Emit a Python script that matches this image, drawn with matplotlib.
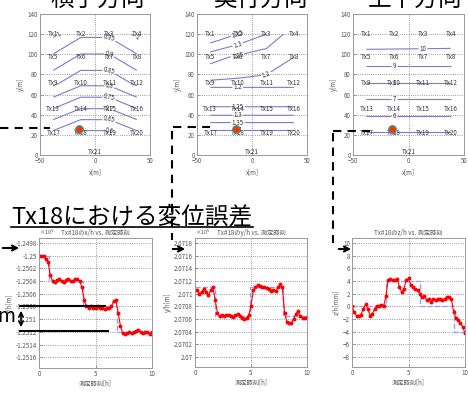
import numpy as np
import matplotlib
matplotlib.use('Agg')
import matplotlib.pyplot as plt
from matplotlib.lines import Line2D
from matplotlib.patches import FancyArrowPatch

plt.rcParams['font.family'] = ['Noto Sans CJK JP', 'DejaVu Sans']

W, H = 468, 395

# ---- 上段: 送信機配置と誤差の等高線
top_titles = ['横手方向', '奥行方向', '上下方向']
grid_x = [-38, -13, 13, 38]
grid_y = [22, 46, 71, 97, 120]
lateral = [[0.64, 0.59, 0.59, 0.64],
           [0.75, 0.70, 0.70, 0.75],
           [0.86, 0.81, 0.81, 0.86],
           [0.94, 0.89, 0.89, 0.94],
           [1.01, 0.96, 0.96, 1.01]]
lateral_levels = [0.6, 0.65, 0.7, 0.75, 0.8, 0.85, 0.9, 0.95, 1.0]
depth = [[1.42, 1.42, 1.42, 1.42],
         [1.255, 1.255, 1.255, 1.255],
         [1.19, 1.19, 1.19, 1.19],
         [1.27, 1.24, 1.22, 1.20],
         [1.40, 1.35, 1.30, 1.22]]
depth_levels = [1.2, 1.25, 1.3, 1.35, 1.4]
vertical = [[4.95, 4.95, 4.95, 4.95],
            [6.45, 6.45, 6.45, 6.45],
            [7.95, 7.95, 7.95, 7.95],
            [9.5, 9.5, 9.5, 9.5],
            [10.95, 10.9, 10.85, 10.8]]
vertical_levels = [5, 6, 7, 8, 9, 10]

tx_x = [-38, -13, 13, 38] * 5 + [0]
tx_y = [120] * 4 + [97] * 4 + [71] * 4 + [46] * 4 + [22] * 4 + [3]
tx_names = ['Tx%d' % i for i in range(1, 22)]
dot_x, dot_y = -15, 26

# ---- 下段: Tx18 の時系列
t = np.round(np.arange(0, 10.01, 0.2), 1)
x_h = [-1.2500, -1.2500, -1.2500, -1.25005, -1.2501, -1.2503, -1.2504, -1.25042,
       -1.25038, -1.25036, -1.2504, -1.25042, -1.25038, -1.25037, -1.2504, -1.2504,
       -1.25037, -1.25036, -1.2504, -1.2505, -1.2507, -1.2508, -1.25082, -1.2508,
       -1.25082, -1.25083, -1.2508, -1.25082, -1.25083, -1.25084, -1.25083, -1.25082,
       -1.2508, -1.25072, -1.2507, -1.2509, -1.2511, -1.25122, -1.25124, -1.25122,
       -1.25121, -1.25122, -1.2512, -1.25118, -1.25117, -1.2512, -1.25122, -1.2512,
       -1.2512, -1.25123, -1.2512]
y_h = [2.07105, 2.07105, 2.07100, 2.07103, 2.07108, 2.07102, 2.07098, 2.07105,
       2.07110, 2.0709, 2.0707, 2.07064, 2.07066, 2.07064, 2.07066, 2.07067,
       2.07064, 2.07063, 2.07066, 2.07068, 2.07064, 2.07061, 2.07060, 2.07062,
       2.07066, 2.0708, 2.07105, 2.0711, 2.07113, 2.07112, 2.0711, 2.0711,
       2.07109, 2.07107, 2.07104, 2.07106, 2.07104, 2.0711, 2.07115, 2.0711,
       2.0707, 2.07055, 2.07053, 2.07054, 2.0706, 2.07068, 2.07072, 2.07065,
       2.07062, 2.07062, 2.07063]
z_h = [0, -0.9, -1.5, -1.6, -1.3, -0.4, 0.3, -0.4, -1.5, -1.2, -0.4, 0, 0.1, 0.2,
       0, 1.6, 4.2, 4.3, 4.1, 4.2, 4.3, 3.1, 2.2, 2.8, 4.2, 4.4, 3.4, 3.1, 2.8,
       2.6, 1.9, 1.4, 1.6, 1.0, 1.2, 0.7, 1.2, 1.0, 1.2, 1.1, 1.0, 1.2, 1.4, 1.5,
       1.1, -0.9, -1.9, -2.2, -2.7, -3.2, -4.3]
x_step_t = [0, 0.9, 3.9, 6.9, 10]
x_step = [-1.25, -1.2504, -1.2508, -1.2512, -1.2512]
y_step_t = [0, 1.8, 4.9, 7.9, 10]
y_step = [2.0711, 2.07065, 2.0711, 2.07065, 2.07065]
z_step_t = [0, 3, 6, 9, 10]
z_step = [0, 4, 0, -4, -4]

x_ticks = [-1.2498, -1.25, -1.2502, -1.2504, -1.2506, -1.2508, -1.251, -1.2512, -1.2514, -1.2516]
x_ticklabels = ['-1.2498', '-1.25', '-1.2502', '-1.2504', '-1.2506', '-1.2508', '-1.251',
                '-1.2512', '-1.2514', '-1.2516']
y_ticks = [2.0718, 2.0716, 2.0714, 2.0712, 2.071, 2.0708, 2.0706, 2.0704, 2.0702, 2.07]
y_ticklabels = ['2.0718', '2.0716', '2.0714', '2.0712', '2.071', '2.0708', '2.0706',
                '2.0704', '2.0702', '2.07']
z_ticks = [10, 8, 6, 4, 2, 0, -2, -4, -6, -8]
bottom_titles = ['Tx#18のx/h vs. 測定時刻', 'Tx#18のy/h vs. 測定時刻', 'Tx#18のz/h vs. 測定時刻']
bottom_ylabels = ['x/h[m]', 'y/h[m]', 'z/h[mm]']


def rect(l, top, r, b):
    return [l / W, 1 - b / H, (r - l) / W, (b - top) / H]


def P(px, py):
    return (px / W, 1 - py / H)


def style(ax):
    ax.grid(True, ls=':', color='#777', lw=0.6)
    for s in ax.spines.values():
        s.set_color('#999')
        s.set_linewidth(0.7)
    ax.tick_params(direction='in', length=2, width=0.5, labelsize=4.5,
                   labelcolor='#555', color='#777', pad=1.5)


fig = plt.figure(figsize=(W / 100, H / 100), dpi=100)

top_rects = [(40, 14, 150, 155), (197, 14, 307, 155), (353, 14, 464, 155)]
top_data = [(lateral, lateral_levels), (depth, depth_levels), (vertical, vertical_levels)]
title_cx = [98, 260, 415]
for i in range(3):
    ax = fig.add_axes(rect(*top_rects[i]))
    style(ax)
    ax.set_xlim(-50, 50)
    ax.set_ylim(0, 140)
    ax.set_xticks([-50, 0, 50])
    ax.set_yticks(range(0, 141, 20))
    ax.set_xlabel('x[m]', fontsize=4.5, color='#555', labelpad=2)
    ax.set_ylabel('y[m]', fontsize=4.5, color='#555', labelpad=2)
    vals, levels = top_data[i]
    cs = ax.contour(grid_x, grid_y, vals, levels=levels, colors='#7b7bd0', linewidths=0.8)
    ax.clabel(cs, fmt='%g', fontsize=4.5, inline=True, inline_spacing=1, colors='#333')
    for x, y, n in zip(tx_x, tx_y, tx_names):
        ax.text(x, y, n, fontsize=4.5, ha='center', va='center', color='#333')
    ax.plot(dot_x, dot_y, 'o', color='#ff3300', mec='#2a9d9d', mew=0.8, ms=5.5, zorder=5)
    # 見出しは上端で切れている
    fig.text(*P(title_cx[i], 5.5), top_titles[i], fontsize=17, ha='center', va='baseline')

bot_rects = [(39, 238, 152, 368), (195, 238, 307, 367), (352, 238, 465, 367)]
series = [(x_h, x_step_t, x_step), (y_h, y_step_t, y_step), (z_h, z_step_t, z_step)]
ylims = [(-1.25177, -1.24972), (2.06984, 2.07188), (-9.6, 10.8)]
for i in range(3):
    ax = fig.add_axes(rect(*bot_rects[i]))
    style(ax)
    vals, st, sv = series[i]
    ax.step(st, sv, where='post', color='#9a9aff', ls='--', lw=1.0)
    ax.plot(t, vals, '-', color='red', lw=0.8, marker='o', ms=1.8)
    ax.set_xlim(0, 10)
    ax.set_ylim(*ylims[i])
    ax.set_xticks([0, 5, 10])
    ax.set_xlabel('測定時刻[h]', fontsize=4.5, color='#555', labelpad=1)
    ax.set_ylabel(bottom_ylabels[i], fontsize=4.5, color='#555', labelpad=1.5)
    ax.set_title(bottom_titles[i], fontsize=4.5, color='#555', pad=2)
    if i == 0:
        ax.set_yticks(x_ticks)
        ax.set_yticklabels(x_ticklabels)
    elif i == 1:
        ax.set_yticks(y_ticks)
        ax.set_yticklabels(y_ticklabels)
    else:
        ax.set_yticks(z_ticks)
    if i < 2:
        ax.text(0, 1.01, '×10$^5$', transform=ax.transAxes, fontsize=4, color='#555',
                ha='left', va='bottom')

# 下段タイトル
fig.text(*P(11, 223), 'Tx18における変位誤差', fontsize=17, ha='left', va='baseline')
fig.add_artist(Line2D([11 / W, 253 / W], [1 - 227 / H] * 2, color='k', lw=1.2))

# 破線の引き出し線
dash = dict(color='k', lw=1.5, ls=(0, (4, 3)))
for (x0, y0), (x1, y1) in [((0, 128), (50, 128)),
                           ((173, 127), (210, 127)), ((172, 131), (172, 240)),
                           ((333, 131), (370, 131)), ((333, 133), (333, 243))]:
    a, b = P(x0, y0), P(x1, y1)
    fig.add_artist(Line2D([a[0], b[0]], [a[1], b[1]], **dash))
for (x0, y0), (x1, y1) in [((0, 248), (22, 248)), ((170, 249), (188, 249)),
                           ((336, 249), (354, 249))]:
    fig.add_artist(FancyArrowPatch(P(x0, y0), P(x1, y1), transform=fig.transFigure,
                                   arrowstyle='->', mutation_scale=9, color='k', lw=1.5))

# 変位量の表示
for y0, x1 in [(306, 105), (331, 108)]:
    fig.add_artist(Line2D([20 / W, x1 / W], [1 - y0 / H] * 2, color='k', lw=1.5))
fig.add_artist(FancyArrowPatch(P(21, 308), P(21, 330), transform=fig.transFigure,
                               arrowstyle='<->', mutation_scale=8, color='k', lw=1.2))
fig.text(*P(6, 316), 'm', fontsize=14, ha='center', va='center')

fig.savefig('out.png', dpi=100)
